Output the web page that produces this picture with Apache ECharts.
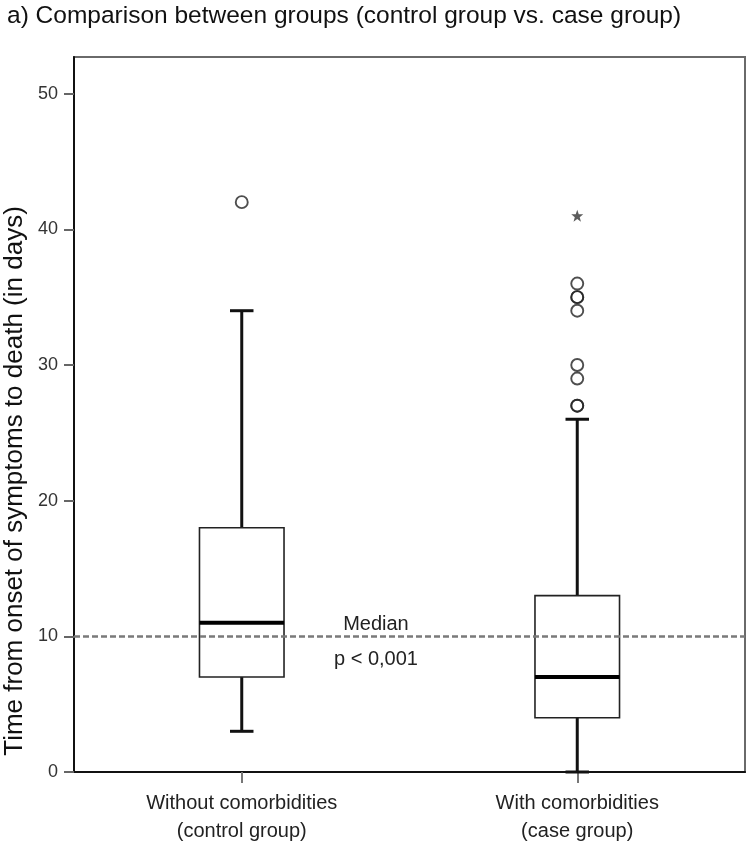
<!DOCTYPE html>
<html>
<head>
<meta charset="utf-8">
<script src="https://cdn.jsdelivr.net/npm/echarts@6/dist/echarts.min.js"></script>
<style>
html,body{margin:0;padding:0;background:#fff;}
#chart{width:750px;height:843px;}
</style>
</head>
<body>
<div id="chart"></div>
<script>
const categories = ['Without comorbidities\n(control group)', 'With comorbidities\n(case group)'];
const whiskerLow = [3, 0];
const q1 = [7, 4];
const median = [11, 7];
const q3 = [18, 13];
const whiskerHigh = [34, 26];
const outliersControl = [42];
const outliersCase = [27, 27, 29, 30, 34, 35, 35, 36];
const extremesCase = [41];
const overallMedian = 10;
const yTicks = [0, 10, 20, 30, 40, 50];
const yMin = 0;
const yMax = 52.7;
const titleText = 'a) Comparison between groups (control group vs. case group)';
const yName = 'Time from onset of symptoms to death (in days)';
const medianLabel = 'Median';
const pLabel = 'p < 0,001';

const FONT = 'Liberation Sans, Arial, sans-serif';

const boxData = categories.map((c, i) => [i, whiskerLow[i], q1[i], median[i], q3[i], whiskerHigh[i]]);
const outlierData = [];
outliersControl.forEach(v => outlierData.push([0, v]));
outliersCase.forEach(v => outlierData.push([1, v]));
const extremeData = extremesCase.map(v => [1, v]);

const chart = echarts.init(document.getElementById('chart'), null, {renderer: 'canvas'});

function renderBox(params, api) {
  const idx = api.value(0);
  const low = api.coord([idx, api.value(1)]);
  const p1 = api.coord([idx, api.value(2)]);
  const pm = api.coord([idx, api.value(3)]);
  const p3 = api.coord([idx, api.value(4)]);
  const high = api.coord([idx, api.value(5)]);
  const band = api.size([1, 0])[0];
  const bw = band * 0.252;
  const cw = band * 0.07;
  const cx = low[0];
  const lineStyle = {stroke: '#111', lineWidth: 3};
  return {
    type: 'group',
    children: [
      {type: 'line', shape: {x1: cx, y1: low[1], x2: cx, y2: p1[1]}, style: lineStyle},
      {type: 'line', shape: {x1: cx, y1: p3[1], x2: cx, y2: high[1]}, style: lineStyle},
      {type: 'line', shape: {x1: cx - cw / 2, y1: low[1], x2: cx + cw / 2, y2: low[1]}, style: lineStyle},
      {type: 'line', shape: {x1: cx - cw / 2, y1: high[1], x2: cx + cw / 2, y2: high[1]}, style: lineStyle},
      {type: 'rect', shape: {x: cx - bw / 2, y: p3[1], width: bw, height: p1[1] - p3[1]},
        style: {fill: '#fff', stroke: '#222', lineWidth: 1.6}},
      {type: 'line', shape: {x1: cx - bw / 2, y1: pm[1], x2: cx + bw / 2, y2: pm[1]},
        style: {stroke: '#000', lineWidth: 4}}
    ]
  };
}

const option = {
  backgroundColor: '#fff',
  animation: false,
  grid: {
    left: 74, right: 5, top: 57, bottom: 71,
    outerBoundsMode: 'none',
    containLabel: false,
    show: true, borderColor: '#6a6a6a', borderWidth: 2, backgroundColor: 'transparent'
  },
  xAxis: {
    type: 'category',
    data: categories,
    boundaryGap: true,
    axisLine: {lineStyle: {color: '#111', width: 2}},
    axisTick: {show: true, alignWithLabel: true, length: 11, lineStyle: {color: '#777', width: 2}},
    axisLabel: {margin: 17, fontFamily: FONT, fontSize: 20, color: '#222', lineHeight: 28},
    splitLine: {show: false}
  },
  yAxis: {
    type: 'value',
    min: yMin,
    max: yMax,
    interval: 10,
    axisLine: {show: true, lineStyle: {color: '#111', width: 2}},
    axisTick: {show: true, length: 10, customValues: yTicks, lineStyle: {color: '#666', width: 2}},
    axisLabel: {margin: 16, fontFamily: FONT, fontSize: 18, color: '#333', customValues: yTicks},
    splitLine: {show: false}
  },
  series: [
    {
      type: 'line',
      data: [],
      markLine: {
        silent: true,
        symbol: 'none',
        label: {show: false},
        lineStyle: {color: '#7a7a7a', type: [6, 3], width: 2.5},
        data: [{yAxis: overallMedian}]
      }
    },
    {
      type: 'custom',
      renderItem: renderBox,
      encode: {x: 0, y: [1, 2, 3, 4, 5]},
      data: boxData,
      z: 3
    },
    {
      type: 'scatter',
      data: outlierData,
      symbol: 'circle',
      symbolSize: 12,
      itemStyle: {color: 'rgba(255,255,255,0)', borderColor: '#222', borderWidth: 1.9},
      z: 4
    },
    {
      type: 'scatter',
      data: extremeData,
      symbol: 'path://M0,-10 L2.4,-3.3 L9.5,-3.1 L3.9,1.3 L5.9,8.1 L0,4.1 L-5.9,8.1 L-3.9,1.3 L-9.5,-3.1 L-2.4,-3.3 Z',
      symbolSize: 12,
      itemStyle: {color: '#333'},
      z: 4
    }
  ]
};
chart.setOption(option);

const lineY = chart.convertToPixel({yAxisIndex: 0}, overallMedian);
const x0 = chart.convertToPixel({xAxisIndex: 0}, 0);
const x1 = chart.convertToPixel({xAxisIndex: 0}, 1);
const midX = x0 + (x1 - x0) * 0.4;
chart.setOption({
  graphic: [
    {type: 'text', x: 7, y: 16,
      style: {text: titleText, fontFamily: FONT, fontSize: 24.5, fill: '#111', align: 'left', verticalAlign: 'middle'}},
    {type: 'text', x: 15, y: 481, rotation: Math.PI / 2,
      style: {text: yName, fontFamily: FONT, fontSize: 26, fill: '#111', align: 'center', verticalAlign: 'middle'}},
    {type: 'text', x: midX, y: lineY - 12,
      style: {text: medianLabel, fontFamily: FONT, fontSize: 20, fill: '#222', align: 'center', verticalAlign: 'middle'}},
    {type: 'text', x: midX, y: lineY + 23,
      style: {text: pLabel, fontFamily: FONT, fontSize: 20, fill: '#222', align: 'center', verticalAlign: 'middle'}}
  ]
});
</script>
</body>
</html>
